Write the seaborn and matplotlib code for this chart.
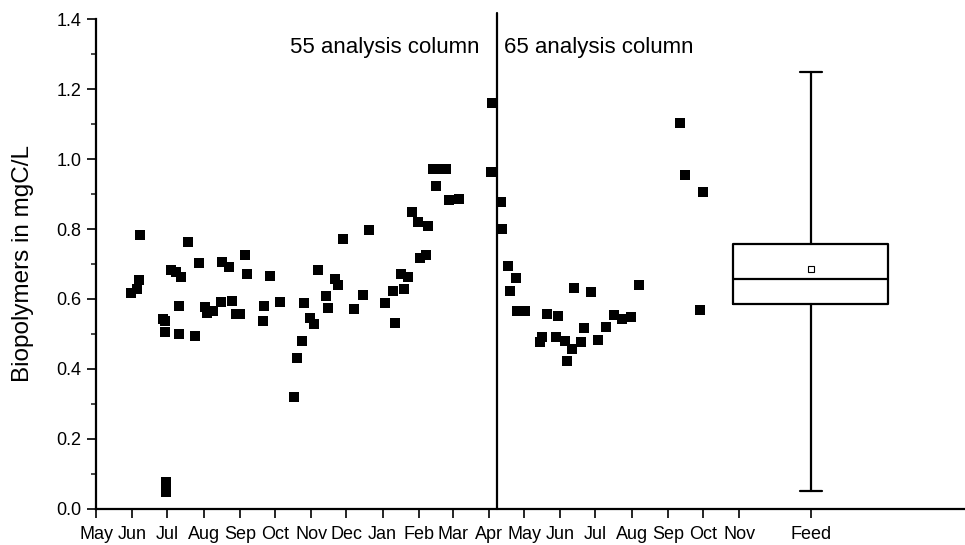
import matplotlib
matplotlib.use("Agg")
import matplotlib.pyplot as plt
import matplotlib.dates as mdates
import numpy as np
import pandas as pd
import seaborn as sns
from matplotlib.ticker import MultipleLocator


# 采样日期与生物聚合物浓度（mgC/L）
SAMPLE_DATES = [
    "2007-05-31", "2007-06-05", "2007-06-07", "2007-06-08", "2007-06-27",
    "2007-06-29", "2007-06-29", "2007-06-30", "2007-06-30", "2007-06-30",
    "2007-07-04", "2007-07-08", "2007-07-13", "2007-07-11", "2007-07-11",
    "2007-07-19", "2007-07-25", "2007-07-28", "2007-08-02", "2007-08-04",
    "2007-08-09", "2007-08-16", "2007-08-17", "2007-08-23", "2007-08-25",
    "2007-08-29", "2007-09-01", "2007-09-05", "2007-09-07", "2007-09-21",
    "2007-09-22", "2007-09-27", "2007-10-05", "2007-10-17", "2007-10-20",
    "2007-10-24", "2007-10-26", "2007-10-31", "2007-11-03", "2007-11-07",
    "2007-11-14", "2007-11-15", "2007-11-21", "2007-11-24", "2007-11-28",
    "2007-12-08", "2007-12-15", "2007-12-20", "2008-01-03", "2008-01-10",
    "2008-01-12", "2008-01-17", "2008-01-19", "2008-01-23", "2008-01-26",
    "2008-01-31", "2008-02-02", "2008-02-07", "2008-02-09", "2008-02-13",
    "2008-02-18", "2008-02-24", "2008-02-16", "2008-02-27", "2008-03-06",
    "2008-04-03", "2008-04-04",
    "2008-04-11", "2008-04-12", "2008-04-17", "2008-04-19", "2008-04-24",
    "2008-04-25", "2008-05-02", "2008-05-15", "2008-05-16", "2008-05-21",
    "2008-05-28", "2008-05-30", "2008-06-05", "2008-06-07", "2008-06-11",
    "2008-06-13", "2008-06-19", "2008-06-21", "2008-06-27", "2008-07-03",
    "2008-07-10", "2008-07-17", "2008-07-24", "2008-07-31", "2008-08-07",
    "2008-09-11", "2008-09-16", "2008-09-28", "2008-10-01",
]
BIOPOLYMERS = [
    0.616, 0.628, 0.654, 0.784, 0.544,
    0.537, 0.505, 0.078, 0.062, 0.048,
    0.683, 0.678, 0.664, 0.580, 0.499,
    0.762, 0.495, 0.704, 0.578, 0.559,
    0.566, 0.592, 0.705, 0.692, 0.595,
    0.556, 0.556, 0.727, 0.671, 0.536,
    0.581, 0.666, 0.590, 0.321, 0.432,
    0.480, 0.588, 0.545, 0.528, 0.683,
    0.609, 0.575, 0.656, 0.639, 0.771,
    0.571, 0.612, 0.796, 0.588, 0.624,
    0.531, 0.671, 0.628, 0.664, 0.848,
    0.819, 0.716, 0.726, 0.810, 0.971,
    0.971, 0.971, 0.923, 0.883, 0.887,
    0.963, 1.159,
    0.878, 0.799, 0.695, 0.623, 0.659,
    0.565, 0.565, 0.476, 0.490, 0.556,
    0.492, 0.552, 0.481, 0.424, 0.456,
    0.632, 0.477, 0.516, 0.619, 0.484,
    0.520, 0.553, 0.544, 0.548, 0.640,
    1.102, 0.954, 0.569, 0.907,
]

# 进水（Feed）箱线图统计量
FEED_DATE = "2009-01-01"
FEED_STATS = {"whislo": 0.05, "q1": 0.585, "med": 0.657,
              "q3": 0.757, "whishi": 1.25, "mean": 0.685}

COLUMN_SWITCH = "2008-04-08"
COLUMN_LABELS = ["55 analysis column", "65 analysis column"]

MONTH_LABELS = ["May", "Jun", "Jul", "Aug", "Sep", "Oct", "Nov", "Dec", "Jan",
                "Feb", "Mar", "Apr", "May", "Jun", "Jul", "Aug", "Sep", "Oct",
                "Nov"]


def main():
    sns.set_theme(style="ticks")
    plt.rcParams["font.family"] = ["Liberation Sans", "DejaVu Sans"]
    plt.rcParams["text.color"] = "black"
    plt.rcParams["axes.labelcolor"] = "black"

    df = pd.DataFrame({"date": pd.to_datetime(SAMPLE_DATES),
                       "bio": BIOPOLYMERS})

    fig = plt.figure(figsize=(9.65, 5.45), dpi=100)
    ax = fig.add_axes([0.0995, 0.0661, 0.9005, 0.899])

    sns.scatterplot(data=df, x="date", y="bio", marker="s", s=52,
                    color="black", linewidth=0, ax=ax, zorder=3)

    # Feed 的箱线图直接用统计量绘制
    feed_x = mdates.date2num(pd.Timestamp(FEED_DATE))
    stats = dict(FEED_STATS, fliers=[])
    ax.bxp([stats], positions=[feed_x], widths=133, capwidths=19,
           showmeans=True, showfliers=False, manage_ticks=False,
           boxprops=dict(color="black", linewidth=1.6),
           medianprops=dict(color="black", linewidth=1.6),
           whiskerprops=dict(color="black", linewidth=1.6),
           capprops=dict(color="black", linewidth=1.6),
           meanprops=dict(marker="s", markersize=4, markerfacecolor="white",
                          markeredgecolor="black", markeredgewidth=0.8))

    # 两根分析柱的分界线
    switch_x = mdates.date2num(pd.Timestamp(COLUMN_SWITCH))
    ax.axvline(switch_x, ymin=0, ymax=1.417 / 1.4, color="black",
               linewidth=1.6, clip_on=False)
    ax.annotate(COLUMN_LABELS[0], xy=(switch_x, 1.303),
                xytext=(-12.7, 0), textcoords="offset points",
                ha="right", va="baseline", fontsize=16, color="black")
    ax.annotate(COLUMN_LABELS[1], xy=(switch_x, 1.303),
                xytext=(4.6, 0), textcoords="offset points",
                ha="left", va="baseline", fontsize=16, color="black")

    tick_dates = pd.date_range("2007-05-01", "2008-11-01", freq="MS")
    tick_pos = list(mdates.date2num(tick_dates)) + [feed_x]
    ax.set_xticks(tick_pos)
    ax.set_xticklabels(MONTH_LABELS + ["Feed"])
    ax.set_xlim(mdates.date2num(pd.Timestamp("2007-05-01")),
                mdates.date2num(pd.Timestamp("2009-05-13")))

    ax.set_ylim(0, 1.4)
    ax.yaxis.set_major_locator(MultipleLocator(0.2))
    ax.yaxis.set_minor_locator(MultipleLocator(0.1))
    ax.yaxis.set_major_formatter(plt.FormatStrFormatter("%.1f"))

    ax.tick_params(axis="both", which="major", direction="out", length=6.5,
                   width=1.2, labelsize=13, colors="black")
    ax.tick_params(axis="y", which="minor", direction="out", length=3.3,
                   width=1.2)
    ax.tick_params(axis="y", which="major", pad=4)
    ax.tick_params(axis="x", which="major", pad=6)

    for side in ("left", "bottom"):
        ax.spines[side].set_linewidth(1.6)
        ax.spines[side].set_color("black")
    for side in ("top", "right"):
        ax.spines[side].set_visible(False)

    ax.set_xlabel("")
    ax.set_ylabel("Biopolymers in mgC/L", fontsize=17.5, color="black")
    ax.yaxis.set_label_coords(-0.071, 0.5)
    ax.grid(False)

    fig.savefig("out.png", dpi=100)


if __name__ == "__main__":
    main()
